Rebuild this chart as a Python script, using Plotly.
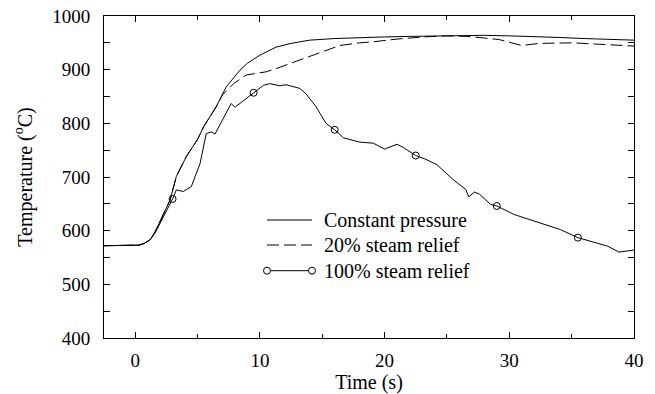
import plotly.graph_objects as go

# Constant pressure
t_const = [-2.5, 0, 0.3, 0.7, 1.2, 1.6, 2, 2.4, 2.8, 3.3, 4.1, 5, 5.5, 6.5, 7.3, 8.4, 9, 10, 11.3, 12.5,
           14, 16, 18, 20, 22, 24, 26, 28, 30, 32, 34, 36, 38, 40]
T_const = [572, 572, 573, 576, 583, 598, 617, 636, 657, 701, 738, 770, 794, 831, 868, 899, 912, 927, 942, 949,
           955, 958, 960, 961, 962, 963, 964, 964, 963, 962, 960, 958, 957, 955]

# 20% steam relief
t_20 = [-2.5, 0, 0.3, 0.7, 1.2, 1.6, 2, 2.4, 2.8, 3.3, 4.1, 5, 5.5, 6.5, 7, 7.9, 8.9, 9.7, 10.5, 11.3,
        12.7, 14, 15.3, 16.4, 18, 19.1, 21, 23.1, 25, 26.6, 28, 29.2, 31, 32.4, 35.1, 37.8, 40]
T_20 = [572, 572, 573, 576, 583, 598, 617, 636, 657, 701, 738, 770, 794, 831, 853, 874, 890, 893, 896, 902,
        914, 925, 936, 945, 950, 952, 957, 961, 963, 962, 959, 956, 945, 949, 950, 947, 944]

# 100% steam relief
t_100 = [-2.5, 0, 0.3, 0.7, 1.2, 1.6, 2, 2.5, 3, 3.3, 3.85, 4.5, 5.2, 5.7, 6.1, 6.4, 7.05, 7.7, 8,
         9.5, 10.3, 10.8, 11.6, 12.1, 12.7, 13.2, 13.7, 14.5, 15.3, 16, 16.7, 17.2, 18, 19.1, 20,
         21, 21.5, 22.5, 23.3, 24.2, 25.5, 26.5, 26.75, 27.2, 27.6, 28.5, 29, 30.4, 31.5, 32.5,
         34.1, 35.5, 36.5, 37.9, 38.8, 40]
T_100 = [572, 572, 573, 576, 583, 596, 614, 635, 659, 676, 673, 682, 725, 781, 784, 780, 809, 837, 830,
         857, 871, 874, 870, 872, 868, 865, 855, 831, 800, 788, 773, 770, 765, 763, 752,
         761, 755, 740, 733, 723, 695, 677, 663, 672, 668, 649, 646, 630, 622, 615,
         602, 587, 580, 571, 560, 564]

# markers on the 100% curve
t_mark = [3, 9.5, 16, 22.5, 29, 35.5]
T_mark = [659, 857, 788, 740, 646, 587]

legend_labels = ["Constant pressure", "20% steam relief", "100% steam relief"]

FONT = "Liberation Serif"
fig = go.Figure()
fig.add_trace(go.Scatter(x=t_const, y=T_const, mode="lines", line=dict(color="black", width=1),
                         showlegend=False))
fig.add_trace(go.Scatter(x=t_20, y=T_20, mode="lines", line=dict(color="black", width=1, dash="12px,5px"),
                         showlegend=False))
fig.add_trace(go.Scatter(x=t_100, y=T_100, mode="lines", line=dict(color="black", width=1),
                         showlegend=False))
fig.add_trace(go.Scatter(x=t_mark, y=T_mark, mode="markers",
                         marker=dict(symbol="circle-open", size=7, color="black", line=dict(width=1)),
                         showlegend=False))

# manual legend
lx0, lx1, tx = (267 - 104) / 530, (312 - 104) / 530, (322 - 104) / 530
rows = [(338 - 220) / 322, (338 - 245) / 322, (338 - 270.7) / 322]
dashes = ["solid", "12px,5px", "solid"]
shapes = []
annotations = []
for i, (lab, yy, d) in enumerate(zip(legend_labels, rows, dashes)):
    shapes.append(dict(type="line", xref="paper", yref="paper", x0=lx0, x1=lx1, y0=yy, y1=yy,
                       line=dict(color="black", width=1, dash=d)))
    annotations.append(dict(xref="paper", yref="paper", x=tx, y=yy, text=lab, showarrow=False,
                            xanchor="left", yanchor="middle", font=dict(family=FONT, size=20, color="black")))
    if i == 2:
        for cx in (lx0, lx1):
            shapes.append(dict(type="circle", xref="paper", yref="paper", xsizemode="pixel", ysizemode="pixel",
                               xanchor=cx, yanchor=yy, x0=-3.5, x1=3.5, y0=-3.5, y1=3.5,
                               line=dict(color="black", width=1), fillcolor="white"))

fig.update_layout(
    width=655, height=394,
    margin=dict(l=104, r=21, t=16, b=56),
    plot_bgcolor="white", paper_bgcolor="white",
    font=dict(family=FONT, size=19, color="black"),
    shapes=shapes, annotations=annotations,
)
fig.update_xaxes(range=[-2.5, 40], tickvals=[0, 10, 20, 30, 40], ticks="inside", ticklen=6,
                 tickcolor="black", showline=True, linecolor="black", linewidth=1, mirror="ticks",
                 showgrid=False, zeroline=False, automargin=False,
                 minor=dict(dtick=5, tick0=0, ticks="inside", ticklen=4, tickcolor="black", showgrid=False),
                 title=dict(text="Time (s)", standoff=5, font=dict(family=FONT, size=20)),
                 tickfont=dict(size=19), ticklabelstandoff=5)
fig.update_yaxes(range=[400, 1000], tickvals=[400, 500, 600, 700, 800, 900, 1000], ticks="inside", ticklen=6,
                 tickcolor="black", showline=True, linecolor="black", linewidth=1, mirror="ticks",
                 showgrid=False, zeroline=False, automargin=False,
                 minor=dict(dtick=50, tick0=0, ticks="inside", ticklen=6, tickcolor="black", showgrid=False),
                 title=dict(text="Temperature (<sup>o</sup>C)", standoff=14, font=dict(family=FONT, size=20)),
                 tickfont=dict(size=19), ticklabelstandoff=9)
fig.write_html("out.html")
